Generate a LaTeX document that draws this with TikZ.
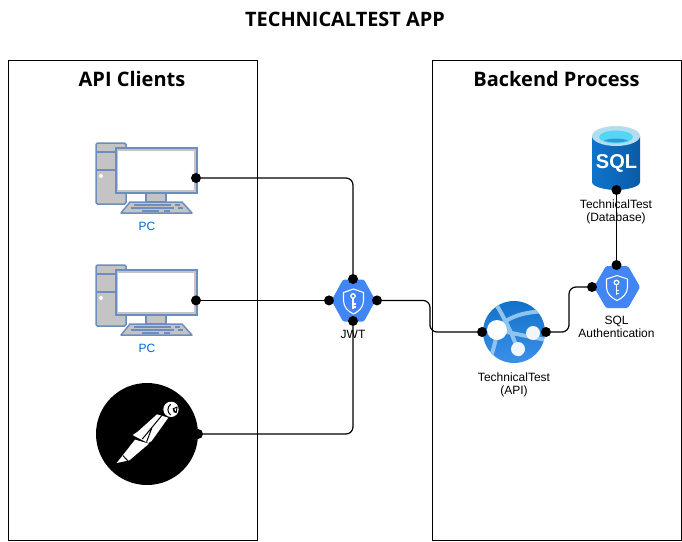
\documentclass[tikz,border=0pt]{standalone}
\usepackage{fontspec}
\setmainfont{Liberation Sans}
\newfontfamily\headfont{Open Sans}
\usetikzlibrary{positioning}
\definecolor{pcblue}{HTML}{6C8EBF}
\definecolor{pcgrey}{HTML}{C4C4C4}
\definecolor{hexblue}{HTML}{4285F4}
\definecolor{pclabel}{HTML}{0066CC}
\definecolor{globeblue}{HTML}{3B8FEA}
\definecolor{globedark}{HTML}{1272C8}
\definecolor{globelight}{HTML}{8FC4EE}
\definecolor{dbleft}{HTML}{0F74CC}
\definecolor{dbright}{HTML}{0B5BA6}
\definecolor{dbrim}{HTML}{B5DDF0}
\definecolor{dbcyan}{HTML}{50D8F5}
\tikzset{
	panel/.style={draw=black, line width=1pt},
	port/.style={circle, fill=black, inner sep=0pt, minimum size=10pt},
	wire/.style={black, line width=1.2pt, rounded corners=7pt},
	heading/.style={font=\headfont\bfseries\fontsize{20}{24}\selectfont},
	caption/.style={font=\fontsize{12}{13.5}\selectfont, align=center},
	pc/.pic={
		\begin{scope}[pcblue, line width=1.5pt, fill=pcgrey]
			\draw[fill=pcgrey, rounded corners=1.5pt] (-51,-35) rectangle (-21,26);
			\draw (-51,-26) -- (-21,-26);
			\draw (-51,-8) -- (-21,-8);
			\fill[white] (-46,-2) circle (2);
			\draw[fill=pcgrey] (-1,15) rectangle (19,24);
			\draw[fill=pcgrey, line join=round] (-26,35) -- (-17,24) -- (35,24) -- (45,35) -- cycle;
			\draw[line width=1.2pt] (-13,27) -- (24,27);
			\draw[line width=1.2pt] (28,27) -- (33,27);
			\draw[line width=1.2pt] (-16,30) -- (27,30);
			\draw[line width=1.2pt] (31,30) -- (36,30);
			\draw[line width=1.2pt] (-5,33) -- (12,33);
			\draw[line width=1.2pt] (17,33) -- (23,33);
			\draw[fill=pcgrey] (-31,-30) rectangle (50,15);
		\end{scope}
		\fill[white] (-29,-27) rectangle (47,12);
	},
	hexkey/.pic={
		\fill[hexblue, rounded corners=1.5pt] (-10.5,-21) -- (10.5,-21) -- (22,0) -- (10.5,21) -- (-10.5,21) -- (-22,0) -- cycle;
		\draw[white, line width=1.1pt, line join=round] (0,-11.5) -- (10,-8) -- (10,0) .. controls (10,7) and (5,11) .. (0,13.5) .. controls (-5,11) and (-10,7) .. (-10,0) -- (-10,-8) -- cycle;
		\draw[white, line width=1.3pt] (-.5,-4.5) circle (2.2);
		\draw[white, line width=1.3pt] (-.5,-2.3) -- (-.5,8) (-.5,3.5) -- (2,3.5) (-.5,6.5) -- (2,6.5);
	},
	postman/.pic={
		\fill[black] (0,0) circle (51);
		\begin{scope}[x=.3333pt, y=-.3333pt, shift={(-186,-177)}, white]
			\fill (258,103) circle (23);
			\draw[black, line width=1pt] (257,88) .. controls (246,96) and (246,112) .. (257,120);
			\fill[black] (263,100) -- (278,94) -- (275,114) -- (266,112) -- cycle;
			\fill[white] (268,102) -- (274,99) -- (272,109) -- cycle;
			\fill[line join=round] (216,118) -- (250,128) -- (200,198) -- (190,204) -- (165,192) -- (143,180) -- (158,170) -- cycle;
			\fill[line join=round] (150,194) -- (192,206) -- (133,256) -- (95,264) -- (114,240) -- cycle;
			\draw[black, line width=1pt] (230,122) -- (172,192) (200,160) -- (185,200) (114,242) -- (128,257);
		\end{scope}
	},
	globe/.pic={
		\begin{scope}
			\clip (0,0) circle (31);
			\shade[top color=globedark, bottom color=globeblue] (-31,-31) rectangle (31,31);
			\draw[globelight, line width=4pt] (-20,-31) .. controls (-8,-12) and (0,6) .. (6,24);
			\draw[globelight, line width=4pt] (-16,-5) .. controls (-2,-18) and (15,-20) .. (32,-21);
			\draw[globelight, line width=4pt] (-24,28) .. controls (-20,15) and (-18,8) .. (-17,0);
			\draw[globelight, line width=4pt] (-17,-2) -- (32,8);
		\end{scope}
		\fill[white] (-17,-2) circle (10);
		\fill[white!92!globeblue] (19,1) circle (7);
		\fill[white!92!globeblue] (4,17) circle (7);
	},
	sqldb/.pic={
		\shade[left color=dbleft, right color=dbright] (-24,-22) -- (-24,24) .. controls (-24,29) and (-10,32) .. (0,32) .. controls (10,32) and (24,29) .. (24,24) -- (24,-22) -- cycle;
		\fill[dbrim] (0,-22) ellipse (24 and 10);
		\fill[dbcyan] (0,-21) ellipse (17 and 6.5);
		\fill[dbleft!80!white] (-12,-17.5) .. controls (-6,-20) and (6,-20) .. (12,-17.5) .. controls (6,-15) and (-6,-15) .. (-12,-17.5) -- cycle;
	}
}
\begin{document}
\begin{tikzpicture}[x=1pt, y=-1pt]
	\useasboundingbox (0,0) rectangle (682,541);
	\node[font=\headfont\bfseries\fontsize{19.9}{22}\selectfont] (title) at (345,19) {TECHNICALTEST APP};
	\draw[panel] (8,60) rectangle (257,540);
	\draw[panel] (432,60) rectangle (681.5,540);
	\node[heading] (clients) at (132,79) {API Clients};
	\node[heading] (backend) at (556.5,79) {Backend Process};

	\pic at (147,178) {pc};
	\pic at (147,300) {pc};
	\pic at (147,434) {postman};
	\pic at (353.5,300.5) {hexkey};
	\pic[xscale=1.05] at (617,287) {hexkey};
	\pic at (514,332) {globe};
	\pic at (616,158) {sqldb};
	\node[font=\bfseries\fontsize{20}{22}\selectfont, white] (sqlmark) at (616.5,163) {SQL};

	\node[caption, text=pclabel] (pconelabel) at (147,226) {PC};
	\node[caption, text=pclabel] (pctwolabel) at (147,348) {PC};
	\node[caption] (jwtlabel) at (353,334) {JWT};
	\node[caption] (authlabel) at (616.5,327) {SQL\\Authentication};
	\node[caption] (apilabel) at (514,385) {TechnicalTest\\(API)};
	\node[caption] (dblabel) at (616,212) {TechnicalTest\\(Database)};

	\node[port] (pcone) at (196,178) {};
	\node[port] (pctwo) at (196,300.4) {};
	\node[port] (pm) at (198,434) {};
	\node[port] (jwtleft) at (329,300.4) {};
	\node[port] (jwtright) at (377,300.4) {};
	\node[port] (jwttop) at (353,279) {};
	\node[port] (jwtbottom) at (353,321) {};
	\node[port] (apileft) at (482,332) {};
	\node[port] (apiright) at (546,332) {};
	\node[port] (authleft) at (592,287) {};
	\node[port] (authtop) at (616.5,265) {};
	\node[port] (dbout) at (616.5,190) {};
	\coordinate (jogone) at (430,316);
	\coordinate (jogtwo) at (569,310);

	\draw[wire] (pcone) -| (jwttop);
	\draw[wire] (pctwo) -- (jwtleft);
	\draw[wire] (pm) -| (jwtbottom);
	\draw[wire] (jwtright) -| (jogone) |- (apileft);
	\draw[wire] (apiright) -| (jogtwo) |- (authleft);
	\draw[wire] (dbout) -- (authtop);
\end{tikzpicture}
\end{document}
